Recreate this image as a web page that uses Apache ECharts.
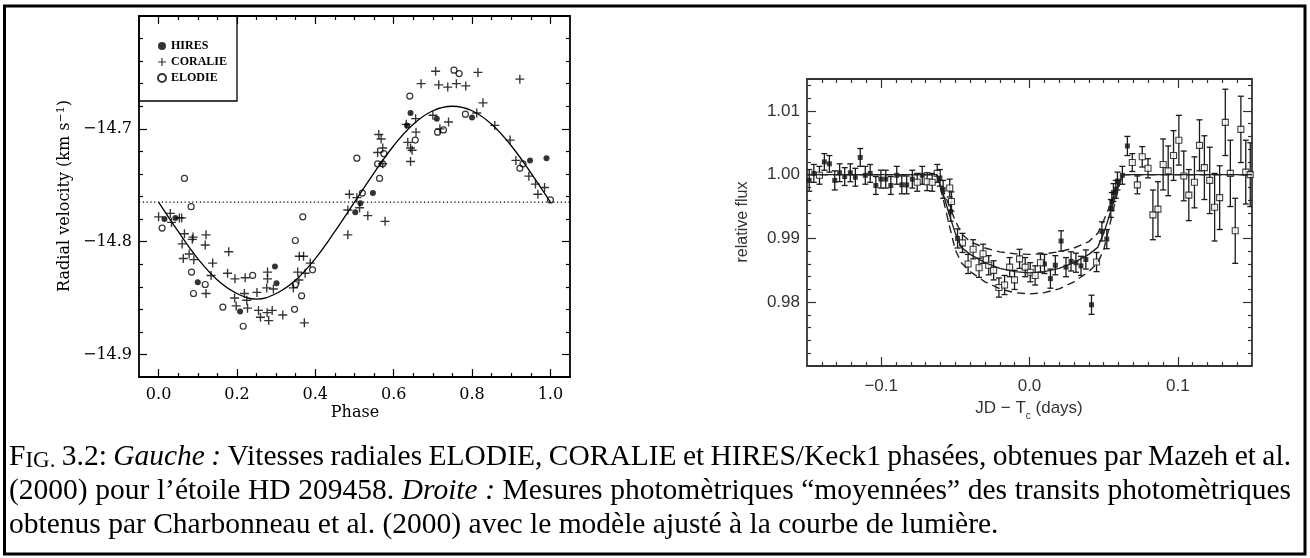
<!DOCTYPE html>
<html>
<head>
<meta charset="utf-8">
<script src="https://cdn.jsdelivr.net/npm/echarts@6/dist/echarts.min.js"></script>
<style>
html, body { margin: 0; padding: 0; background: #fff; }
#chart { width: 1310px; height: 558px; }
</style>
</head>
<body>
<div id="chart"></div>
<script>
// ---------- left panel : radial velocities [phase, km/s]
const hires = [
  [0.015,-14.780],[0.043,-14.779],[0.100,-14.836],[0.208,-14.862],[0.297,-14.822],[0.301,-14.837],
  [0.502,-14.774],[0.515,-14.766],[0.547,-14.757],[0.634,-14.697],[0.643,-14.686],
  [0.710,-14.691],[0.800,-14.690],[0.948,-14.728],[0.990,-14.726]
];
const coralie = [
  [0.000,-14.778],[0.030,-14.775],[0.033,-14.783],[0.053,-14.779],[0.059,-14.779],[0.066,-14.793],
  [0.060,-14.802],[0.086,-14.798],[0.088,-14.796],[0.121,-14.794],[0.119,-14.803],[0.078,-14.811],
  [0.063,-14.815],[0.090,-14.816],[0.138,-14.819],[0.179,-14.809],[0.121,-14.846],[0.134,-14.830],
  [0.176,-14.828],[0.195,-14.833],[0.221,-14.832],[0.278,-14.827],[0.278,-14.833],[0.276,-14.841],
  [0.293,-14.842],[0.251,-14.845],[0.219,-14.846],[0.194,-14.850],[0.225,-14.852],[0.198,-14.857],
  [0.227,-14.859],[0.255,-14.861],[0.260,-14.867],[0.277,-14.863],[0.290,-14.861],[0.281,-14.870],
  [0.317,-14.865],[0.372,-14.872],[0.344,-14.841],[0.358,-14.834],[0.355,-14.827],[0.374,-14.828],
  [0.387,-14.819],[0.359,-14.813],[0.370,-14.813],[0.483,-14.794],[0.483,-14.772],[0.513,-14.770],
  [0.534,-14.777],[0.578,-14.782],[0.487,-14.758],[0.506,-14.761],[0.559,-14.721],[0.572,-14.731],
  [0.572,-14.717],[0.562,-14.705],[0.568,-14.709],[0.656,-14.691],[0.632,-14.696],[0.657,-14.703],
  [0.636,-14.712],[0.643,-14.717],[0.647,-14.719],[0.643,-14.729],
  [0.707,-14.649],[0.815,-14.650],[0.922,-14.656],[0.670,-14.660],[0.715,-14.661],[0.738,-14.663],
  [0.760,-14.660],[0.784,-14.662],[0.828,-14.677],[0.700,-14.688],[0.740,-14.694],[0.718,-14.700],
  [0.812,-14.686],[0.858,-14.697],[0.897,-14.710],[0.912,-14.728],[0.945,-14.742],[0.962,-14.749],
  [0.968,-14.758],[0.985,-14.752]
];
const elodie = [
  [0.009,-14.788],[0.066,-14.744],[0.083,-14.769],[0.084,-14.827],[0.119,-14.838],[0.089,-14.846],
  [0.240,-14.830],[0.164,-14.858],[0.216,-14.875],[0.347,-14.860],[0.365,-14.848],[0.349,-14.838],
  [0.393,-14.825],[0.349,-14.799],[0.368,-14.778],[0.520,-14.757],[0.506,-14.726],[0.564,-14.744],
  [0.575,-14.722],[0.559,-14.731],[0.572,-14.731],[0.641,-14.671],[0.655,-14.710],
  [0.754,-14.648],[0.767,-14.651],[0.712,-14.703],[0.727,-14.701],[0.783,-14.687],[0.922,-14.735],
  [0.930,-14.731],[1.000,-14.763]
];
const fitPhase = [0,0.05,0.1,0.15,0.2,0.25,0.3,0.35,0.4,0.45,0.5,0.55,0.6,0.65,0.7,0.75,0.8,0.85,0.9,0.95,1.0];
const fitVel = [-14.765,-14.791,-14.815,-14.834,-14.846,-14.851,-14.846,-14.834,-14.815,-14.791,
  -14.765,-14.739,-14.715,-14.696,-14.684,-14.680,-14.684,-14.696,-14.715,-14.739,-14.765];
const gammaVel = -14.765;
const phaseTicks = [0, 0.2, 0.4, 0.6, 0.8, 1.0];
const velTicks = [-14.9, -14.8, -14.7];

// ---------- right panel : transit photometry [JD - Tc, flux, error]
const fluxFilled = [
  [-0.1485,0.9991,0.0017],[-0.1454,1.0002,0.0014],[-0.1383,1.0020,0.0013],[-0.1349,1.0017,0.0013],
  [-0.1313,0.9991,0.0015],[-0.1280,1.0003,0.0014],[-0.1246,0.9997,0.0014],[-0.1208,1.0003,0.0014],
  [-0.1174,0.9996,0.0014],[-0.1141,1.0027,0.0014],[-0.1107,0.9999,0.0014],[-0.1074,1.0002,0.0014],
  [-0.1036,0.9983,0.0014],[-0.1002,0.9993,0.0014],[-0.0969,0.9993,0.0014],[-0.0935,0.9983,0.0014],
  [-0.0895,0.9999,0.0014],[-0.0861,0.9984,0.0014],[-0.0828,0.9984,0.0014],[-0.0790,0.9993,0.0014],
  [-0.0723,0.9999,0.0014],[-0.0604,0.9995,0.0013],[-0.0582,0.9977,0.0014],[-0.0532,0.9942,0.0015],
  [-0.0485,0.9900,0.0015],
  [0.0101,0.9860,0.0015],[0.0141,0.9837,0.0015],[0.0174,0.9858,0.0015],[0.0213,0.9896,0.0016],
  [0.0246,0.9855,0.0015],[0.0280,0.9864,0.0015],[0.0313,0.9862,0.0015],[0.0347,0.9857,0.0015],
  [0.0380,0.9867,0.0015],[0.0418,0.9796,0.0015],[0.0488,0.9911,0.0015],[0.0521,0.9899,0.0015],
  [0.0548,0.9947,0.0014],[0.0555,0.9958,0.0014],[0.0566,0.9972,0.0014],[0.0582,0.9977,0.0014],
  [0.0593,0.9990,0.0014],[0.0626,0.9999,0.0014],[0.0660,1.0045,0.0015]
];
const fluxOpen = [
  [-0.1416,0.9999,0.0014],[-0.0757,0.9988,0.0014],[-0.0690,0.9989,0.0014],[-0.0656,0.9988,0.0014],
  [-0.0622,1.0002,0.0014],[-0.0538,0.9979,0.0014],[-0.0526,0.9958,0.0015],[-0.0452,0.9893,0.0015],
  [-0.0414,0.9860,0.0015],[-0.0380,0.9883,0.0015],[-0.0340,0.9854,0.0015],[-0.0313,0.9876,0.0015],
  [-0.0275,0.9858,0.0015],[-0.0242,0.9850,0.0015],[-0.0206,0.9823,0.0015],[-0.0168,0.9827,0.0015],
  [-0.0134,0.9855,0.0015],[-0.0101,0.9835,0.0015],[-0.0067,0.9868,0.0015],[-0.0029,0.9855,0.0015],
  [0.0005,0.9847,0.0015],[0.0038,0.9842,0.0015],[0.0074,0.9862,0.0015],[0.0452,0.9863,0.0015],
  [0.0693,1.0019,0.0014],[0.0727,0.9984,0.0014],[0.0760,1.0028,0.0016],[0.0799,1.0010,0.0015],
  [0.0832,0.9937,0.0039],[0.0866,0.9946,0.0043],[0.0901,1.0016,0.0040],[0.0935,1.0006,0.0039],
  [0.0971,1.0030,0.0039],[0.1007,1.0054,0.0039],[0.1040,0.9998,0.0039],[0.1074,0.9968,0.0040],
  [0.1112,0.9988,0.0040],[0.1146,1.0046,0.0040],[0.1179,1.0011,0.0050],[0.1215,0.9991,0.0052],
  [0.1248,0.9949,0.0053],[0.1282,0.9964,0.0050],[0.1320,1.0082,0.0052],[0.1354,1.0002,0.0052],
  [0.1387,0.9912,0.0051],[0.1425,1.0071,0.0052],[0.1458,1.0004,0.0050],[0.1488,1.0000,0.0050]
];
const modelTime = [-0.15,-0.0625,-0.058,-0.054,-0.05,-0.046,-0.04,-0.03,-0.02,-0.01,0,
  0.01,0.02,0.03,0.04,0.046,0.05,0.054,0.058,0.0625,0.15];
const modelFlux = [1,1,0.9968,0.9937,0.9908,0.9886,0.9875,0.9862,0.9853,0.9848,0.9846,
  0.9848,0.9853,0.9862,0.9875,0.9886,0.9908,0.9937,0.9968,1,1];
const modelUpper = [1,1,0.9975,0.9950,0.9928,0.9908,0.9895,0.9885,0.9879,0.9876,0.9875,
  0.9876,0.9879,0.9885,0.9895,0.9908,0.9928,0.9950,0.9975,1,1];
const modelLower = [1,1,0.9960,0.9920,0.9882,0.9862,0.9848,0.9832,0.9821,0.9815,0.9813,
  0.9815,0.9821,0.9832,0.9848,0.9862,0.9882,0.9920,0.9960,1,1];
const timeTicks = [-0.1, 0, 0.1];
const fluxTicks = [0.98, 0.99, 1.00, 1.01];

// ---------- caption
const captionLines = [
  { text: 'FIG. 3.2: _Gauche _: Vitesses radiales ELODIE, CORALIE et HIRES/Keck1 phasées, obtenues par Mazeh et al.', justify: true },
  { text: '(2000) pour l’étoile HD 209458. _Droite _: Mesures photomètriques “moyennées” des transits photomètriques', justify: true },
  { text: 'obtenus par Charbonneau et al. (2000) avec le modèle ajusté à la courbe de lumière.', justify: false }
];

function steps(a, b, d, skip) {
  const out = [];
  for (let v = a; v <= b + d / 2; v += d) {
    const r = Math.round(v * 1e6) / 1e6;
    if (!skip.some(s => Math.abs(s - r) < 1e-9)) out.push(r);
  }
  return out;
}
const zip = (xs, ys) => xs.map((x, i) => [x, ys[i]]);
const minus = s => s.replace('-', '\u2212');

const chart = echarts.init(document.getElementById('chart'));

// four axes per direction and grid: major+labels, minor, mirrored major, mirrored minor
function axes(dim, grid, min, max, majors, minors, st) {
  const sides = dim === 'x' ? ['bottom', 'top'] : ['left', 'right'];
  const list = [];
  sides.forEach((pos, k) => {
    const base = { type: 'value', gridIndex: grid, min, max, position: pos, splitLine: { show: false } };
    list.push(Object.assign({}, base, {
      axisLine: { show: true, onZero: false, lineStyle: { color: st.color, width: st.lineWidth } },
      axisTick: { show: true, inside: true, length: st.major, customValues: majors,
        lineStyle: { color: st.color, width: 1.2 } },
      axisLabel: { show: k === 0, customValues: majors, margin: st.margin[dim], color: st.text,
        fontFamily: st.font, fontSize: st.fontSize, formatter: st.fmt[dim] }
    }));
    list.push(Object.assign({}, base, {
      axisLine: { show: false, onZero: false },
      axisTick: { show: true, inside: true, length: st.minor, customValues: minors,
        lineStyle: { color: st.color, width: 1.2 } },
      axisLabel: { show: false }
    }));
  });
  return list;
}

const leftStyle = {
  color: '#000', text: '#000', lineWidth: 1.8, major: 8, minor: 4,
  font: 'DejaVu Serif', fontSize: 16, margin: { x: 10, y: 7 },
  fmt: { x: v => v.toFixed(1), y: v => minus(v.toFixed(1)) }
};
const rightStyle = {
  color: '#333', text: '#333', lineWidth: 1.8, major: 9, minor: 4,
  font: 'Liberation Sans', fontSize: 17, margin: { x: 12, y: 7 },
  fmt: { x: v => minus(v.toFixed(1)), y: v => v.toFixed(2) }
};

const xAxes = [].concat(
  axes('x', 0, -0.05, 1.05, phaseTicks, steps(-0.05, 1.05, 0.05, phaseTicks.concat([-0.05, 1.05])), leftStyle),
  axes('x', 1, -0.15, 0.15, timeTicks, steps(-0.14, 0.14, 0.01, timeTicks), rightStyle)
);
const yAxes = [].concat(
  axes('y', 0, -14.92, -14.60, velTicks, steps(-14.90, -14.62, 0.02, velTicks), leftStyle),
  axes('y', 1, 0.970, 1.015, fluxTicks, steps(0.972, 1.014, 0.002, fluxTicks), rightStyle)
);

function errorBar(params, api) {
  const x = api.value(0), y = api.value(1), e = api.value(2);
  const hi = api.coord([x, y + e]), lo = api.coord([x, y - e]);
  const w = 3;
  const style = { stroke: '#1a1a1a', lineWidth: 1.3, fill: null };
  return { type: 'group', children: [
    { type: 'line', shape: { x1: hi[0], y1: hi[1], x2: lo[0], y2: lo[1] }, style },
    { type: 'line', shape: { x1: hi[0] - w, y1: hi[1], x2: hi[0] + w, y2: hi[1] }, style },
    { type: 'line', shape: { x1: lo[0] - w, y1: lo[1], x2: lo[0] + w, y2: lo[1] }, style }
  ]};
}

const plusPath = 'path://M6.8,0h2.4v6.8h6.8v2.4h-6.8v6.8h-2.4v-6.8h-6.8v-2.4h6.8z';

// caption words, justified like the typeset original
const capFont = '"Liberation Serif"';
const capSize = 29.5, capSmall = 23, capLeft = 9, capRight = 1291;
const capY = [457, 491.5, 525];
const ctx = document.createElement('canvas').getContext('2d');
function textWidth(t, st, size) {
  ctx.font = `${st} ${size}px ${capFont}`;
  return ctx.measureText(t).width;
}
function captionGraphics() {
  const out = [];
  captionLines.forEach((line, li) => {
    const words = line.text.split(' ').map(raw => {
      const it = raw.startsWith('_');
      const w = it ? raw.slice(1) : raw;
      if (w === 'FIG.') {
        return { width: textWidth('F', 'normal', capSize) + textWidth('IG.', 'normal', capSmall),
          style: { text: '{a|F}{b|IG.}', rich: {
            a: { fontSize: capSize, fontFamily: capFont, verticalAlign: 'bottom' },
            b: { fontSize: capSmall, fontFamily: capFont, verticalAlign: 'bottom' } } } };
      }
      return { width: textWidth(w, it ? 'italic' : 'normal', capSize),
        style: { text: w, fontStyle: it ? 'italic' : 'normal', fontSize: capSize, fontFamily: capFont } };
    });
    const total = words.reduce((s, w) => s + w.width, 0);
    const gap = line.justify ? (capRight - capLeft - total) / (words.length - 1) : textWidth(' ', 'normal', capSize);
    let x = capLeft;
    words.forEach(w => {
      out.push({ type: 'text', x, y: capY[li],
        style: Object.assign({ fill: '#000', align: 'left', verticalAlign: 'middle' }, w.style) });
      x += w.width + gap;
    });
  });
  return out;
}

const option = {
  backgroundColor: '#fff',
  animation: false,
  grid: [
    { left: 139, top: 16, width: 431, height: 361 },
    { left: 807, top: 79, width: 445, height: 287 }
  ],
  xAxis: xAxes,
  yAxis: yAxes,
  legend: {
    data: ['HIRES', 'CORALIE', 'ELODIE'],
    orient: 'vertical', left: 152, top: 35, itemGap: 4, itemWidth: 8, itemHeight: 8,
    textStyle: { fontFamily: 'Liberation Serif', fontWeight: 'bold', fontSize: 12, color: '#000' }
  },
  graphic: [
    { type: 'rect', shape: { x: 4.5, y: 6, width: 1300.5, height: 548 },
      style: { fill: null, stroke: '#000', lineWidth: 3 }, silent: true },
    { type: 'rect', shape: { x: 139, y: 16, width: 98, height: 85 },
      style: { fill: null, stroke: '#000', lineWidth: 1.3 }, silent: true },
    { type: 'text', x: 65, y: 196, rotation: Math.PI / 2,
      style: { text: 'Radial velocity (km s{sup|\u22121})', fontFamily: 'DejaVu Serif', fontSize: 16,
        fill: '#000', align: 'center', verticalAlign: 'middle',
        rich: { sup: { fontFamily: 'DejaVu Serif', fontSize: 11, verticalAlign: 'top', lineHeight: 18 } } } },
    { type: 'text', x: 355, y: 413,
      style: { text: 'Phase', fontFamily: 'DejaVu Serif', fontSize: 16, fill: '#000',
        align: 'center', verticalAlign: 'middle' } },
    { type: 'text', x: 743, y: 222, rotation: Math.PI / 2,
      style: { text: 'relative flux', fontFamily: 'Liberation Sans', fontSize: 16, fill: '#333',
        align: 'center', verticalAlign: 'middle' } },
    { type: 'text', x: 1029, y: 408,
      style: { text: 'JD \u2212 T{sub|c} (days)', fontFamily: 'Liberation Sans', fontSize: 17, fill: '#333',
        align: 'center', verticalAlign: 'middle',
        rich: { sub: { fontFamily: 'Liberation Sans', fontSize: 10, verticalAlign: 'bottom', lineHeight: 26 } } } }
  ].concat(captionGraphics()),
  series: [
    { type: 'line', xAxisIndex: 0, yAxisIndex: 0, data: [[-0.05, gammaVel], [1.05, gammaVel]],
      symbol: 'none', lineStyle: { color: '#000', width: 1.2, type: [1.2, 2.6] }, silent: true },
    { type: 'line', xAxisIndex: 0, yAxisIndex: 0, data: zip(fitPhase, fitVel), smooth: 0.4,
      symbol: 'none', lineStyle: { color: '#000', width: 1.3 }, silent: true },
    { name: 'HIRES', type: 'scatter', xAxisIndex: 0, yAxisIndex: 0, data: hires,
      symbol: 'circle', symbolSize: 6, itemStyle: { color: '#000' } },
    { name: 'CORALIE', type: 'scatter', xAxisIndex: 0, yAxisIndex: 0, data: coralie,
      symbol: plusPath, symbolSize: 9, itemStyle: { color: '#000' } },
    { name: 'ELODIE', type: 'scatter', xAxisIndex: 0, yAxisIndex: 0, data: elodie,
      symbol: 'circle', symbolSize: 6,
      itemStyle: { color: 'rgba(0,0,0,0)', borderColor: '#000', borderWidth: 1.2 } },

    { type: 'line', xAxisIndex: 4, yAxisIndex: 4, data: zip(modelTime, modelFlux),
      symbol: 'none', lineStyle: { color: '#222', width: 1.4 }, silent: true },
    { type: 'line', xAxisIndex: 4, yAxisIndex: 4, data: zip(modelTime, modelUpper),
      symbol: 'none', lineStyle: { color: '#222', width: 1.4, type: [8, 5] }, silent: true },
    { type: 'line', xAxisIndex: 4, yAxisIndex: 4, data: zip(modelTime, modelLower),
      symbol: 'none', lineStyle: { color: '#222', width: 1.4, type: [8, 5] }, silent: true },
    { type: 'custom', xAxisIndex: 4, yAxisIndex: 4, data: fluxFilled, renderItem: errorBar,
      encode: { x: 0, y: 1 }, clip: true, silent: true },
    { type: 'custom', xAxisIndex: 4, yAxisIndex: 4, data: fluxOpen, renderItem: errorBar,
      encode: { x: 0, y: 1 }, clip: true, silent: true },
    { type: 'scatter', xAxisIndex: 4, yAxisIndex: 4, data: fluxFilled, symbol: 'rect', symbolSize: 5,
      itemStyle: { color: '#111' }, clip: true },
    { type: 'scatter', xAxisIndex: 4, yAxisIndex: 4, data: fluxOpen, symbol: 'rect', symbolSize: 6,
      itemStyle: { color: '#fff', borderColor: '#111', borderWidth: 1.1 }, clip: true }
  ]
};
chart.setOption(option);
</script>
</body>
</html>
